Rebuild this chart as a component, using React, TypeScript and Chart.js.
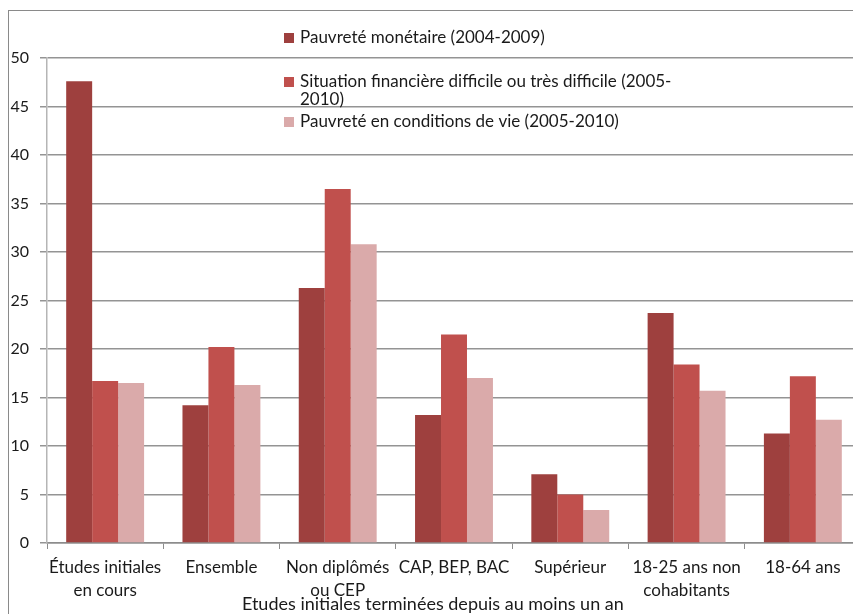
import { useEffect, useRef } from "react";
import { Chart, registerables } from "chart.js";

Chart.register(...registerables);

// Categories on the horizontal axis (multi-line labels as arrays)
const categories: (string | string[])[] = [
  ["Études initiales", "en cours"],
  "Ensemble",
  ["Non diplômés", "ou CEP"],
  "CAP, BEP, BAC",
  "Supérieur",
  ["18-25 ans non", "cohabitants"],
  "18-64 ans",
];

// Series names, split where the legend wraps them
const seriesNames: string[][] = [
  ["Pauvreté monétaire (2004-2009)"],
  ["Situation financière difficile ou très difficile (2005-", "2010)"],
  ["Pauvreté en conditions de vie (2005-2010)"],
];

// Values (%) per category
const pauvreteMonetaire = [47.6, 14.2, 26.3, 13.2, 7.1, 23.7, 11.3];
const situationFinanciere = [16.7, 20.2, 36.5, 21.5, 5.0, 18.4, 17.2];
const conditionsDeVie = [16.5, 16.3, 30.8, 17.0, 3.4, 15.7, 12.7];

const yMin = 0;
const yMax = 50;
const yStep = 5;

const axisTitle = "Etudes initiales terminées depuis au moins un an";

const seriesColors = ["#9e403e", "#c0504d", "#daaaaa"];

const FONT = "Lato, 'Noto Sans', sans-serif";

// Vertical legend drawn inside the plot area, wrapping long names
const insideLegend = {
  id: "insideLegend",
  afterDraw(chart: Chart) {
    const ctx = chart.ctx;
    const opts = (chart.options.plugins as any).insideLegend;
    ctx.save();
    ctx.font = `17px ${FONT}`;
    ctx.textBaseline = "middle";
    ctx.textAlign = "left";
    chart.data.datasets.forEach((ds: any, i: number) => {
      const rowY = opts.rows[i];
      ctx.fillStyle = ds.backgroundColor;
      ctx.fillRect(opts.x, rowY - 5, 10, 10);
      ctx.fillStyle = "#1a1a1a";
      seriesNames[i].forEach((line, j) => {
        ctx.fillText(line, opts.x + 16, rowY + j * opts.lineGap);
      });
    });
    ctx.restore();
  },
};

// Axis title under the category labels
const bottomTitle = {
  id: "bottomTitle",
  afterDraw(chart: Chart) {
    const ctx = chart.ctx;
    const opts = (chart.options.plugins as any).bottomTitle;
    const area = chart.chartArea;
    ctx.save();
    ctx.font = `18px ${FONT}`;
    ctx.fillStyle = "#1a1a1a";
    ctx.textAlign = "center";
    ctx.textBaseline = "middle";
    ctx.fillText(axisTitle, area.left + opts.offset * (area.right - area.left), opts.y);
    ctx.restore();
  },
};

export default function App() {
  const canvasRef = useRef<HTMLCanvasElement | null>(null);

  useEffect(() => {
    if (!canvasRef.current) return;
    const chart = new Chart(canvasRef.current, {
      type: "bar",
      data: {
        labels: categories,
        datasets: [
          { label: seriesNames[0].join(""), data: pauvreteMonetaire, backgroundColor: seriesColors[0] },
          { label: seriesNames[1].join(""), data: situationFinanciere, backgroundColor: seriesColors[1] },
          { label: seriesNames[2].join(""), data: conditionsDeVie, backgroundColor: seriesColors[2] },
        ],
      },
      options: {
        animation: false,
        responsive: false,
        maintainAspectRatio: false,
        layout: { padding: { top: 47, right: 8, left: 0, bottom: 0 } },
        datasets: {
          bar: { categoryPercentage: 0.67, barPercentage: 1.0, borderWidth: 0 },
        },
        plugins: {
          legend: { display: false },
          tooltip: { enabled: false },
          insideLegend: { x: 275, rows: [27, 71, 111], lineGap: 18 },
          bottomTitle: { offset: 0.474, y: 593 },
        } as any,
        scales: {
          x: {
            grid: {
              display: true,
              drawOnChartArea: false,
              drawTicks: true,
              tickLength: 6,
              offset: true,
              color: "#8c8c8c",
            },
            border: { display: true, color: "#8c8c8c", width: 1.5 },
            ticks: {
              color: "#1a1a1a",
              font: { family: FONT, size: 17, lineHeight: 1.35 },
              padding: 7,
              maxRotation: 0,
              autoSkip: false,
            },
            afterFit: (s: any) => {
              s.height = 71;
            },
          },
          y: {
            min: yMin,
            max: yMax,
            ticks: {
              stepSize: yStep,
              color: "#1a1a1a",
              font: { family: FONT, size: 16 },
              padding: 11,
            },
            grid: {
              color: "#949494",
              lineWidth: 1.5,
              drawTicks: true,
              tickLength: 7,
            },
            border: { display: true, color: "#b5b5b5", width: 1.5 },
            afterFit: (s: any) => {
              s.width = 38;
            },
          },
        },
      },
      plugins: [insideLegend, bottomTitle],
    });
    return () => chart.destroy();
  }, []);

  return (
    <div style={{ width: 853, height: 606, overflow: "hidden", position: "relative" }}>
      <div
        style={{
          position: "absolute",
          left: 0,
          top: 2,
          width: 900,
          height: 700,
          border: "1px solid #8a8a8a",
          background: "#fff",
        }}
      >
        <canvas ref={canvasRef} width={860} height={603} style={{ display: "block" }} />
      </div>
    </div>
  );
}
